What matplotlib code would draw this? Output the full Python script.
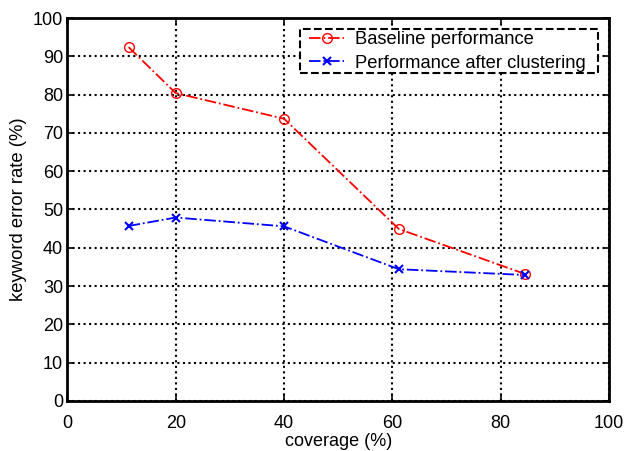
import matplotlib
matplotlib.use('Agg')
import matplotlib.pyplot as plt
from matplotlib.patches import Rectangle
from matplotlib.transforms import IdentityTransform

plt.rcParams['font.family'] = ['Liberation Sans', 'DejaVu Sans']

coverage = [11.3, 20, 40, 61.2, 84.4]
baseline = [92.4, 80.4, 73.7, 44.9, 33.2]
clustered = [45.7, 47.9, 45.6, 34.4, 32.9]

fig = plt.figure(figsize=(6.24, 4.51), dpi=100)
ax = fig.add_axes([0.108, 0.111, 0.868, 0.849])

ax.plot(coverage, baseline, linestyle='-.', color='red', marker='o', markersize=7,
        markerfacecolor='none', markeredgecolor='red', linewidth=1.3,
        label='Baseline performance')
ax.plot(coverage, clustered, linestyle='-.', color='blue', marker='x', markersize=6,
        markeredgewidth=1.5, linewidth=1.3, label='Performance after clustering')

ax.set_xlim(0, 100)
ax.set_ylim(0, 100)
ax.set_xticks(range(0, 101, 20))
ax.set_yticks(range(0, 101, 10))
ax.grid(True, color='black', linestyle=':', linewidth=1.5)
ax.tick_params(direction='in', labelsize=13, length=4, width=1.2,
               top=True, right=True)
ax.tick_params(axis='x', pad=10)
ax.tick_params(axis='y', pad=3)
for sp in ax.spines.values():
    sp.set_linewidth(2)

ax.set_xlabel('coverage (%)', fontsize=13, labelpad=1)
ax.set_ylabel('keyword error rate (%)', fontsize=13.3, labelpad=4)

# legend without its own frame; a wider dashed box is drawn around it below
leg = ax.legend(loc='upper right', bbox_to_anchor=(1 - 23 / 541.6, 1 - 13 / 382.9),
                fontsize=13.2, frameon=False, borderaxespad=0, handlelength=1.9,
                borderpad=0, labelspacing=0.37, handletextpad=0.6)

fig.canvas.draw()
bb = leg.get_window_extent()
box = Rectangle((bb.x0 - 9, bb.y0 - 1), bb.width + 21, bb.height + 3,
                transform=IdentityTransform(), facecolor='white', edgecolor='black',
                linestyle='--', linewidth=1.5, zorder=4.5, clip_on=False)
ax.add_artist(box)

fig.savefig('out.png', dpi=100)
